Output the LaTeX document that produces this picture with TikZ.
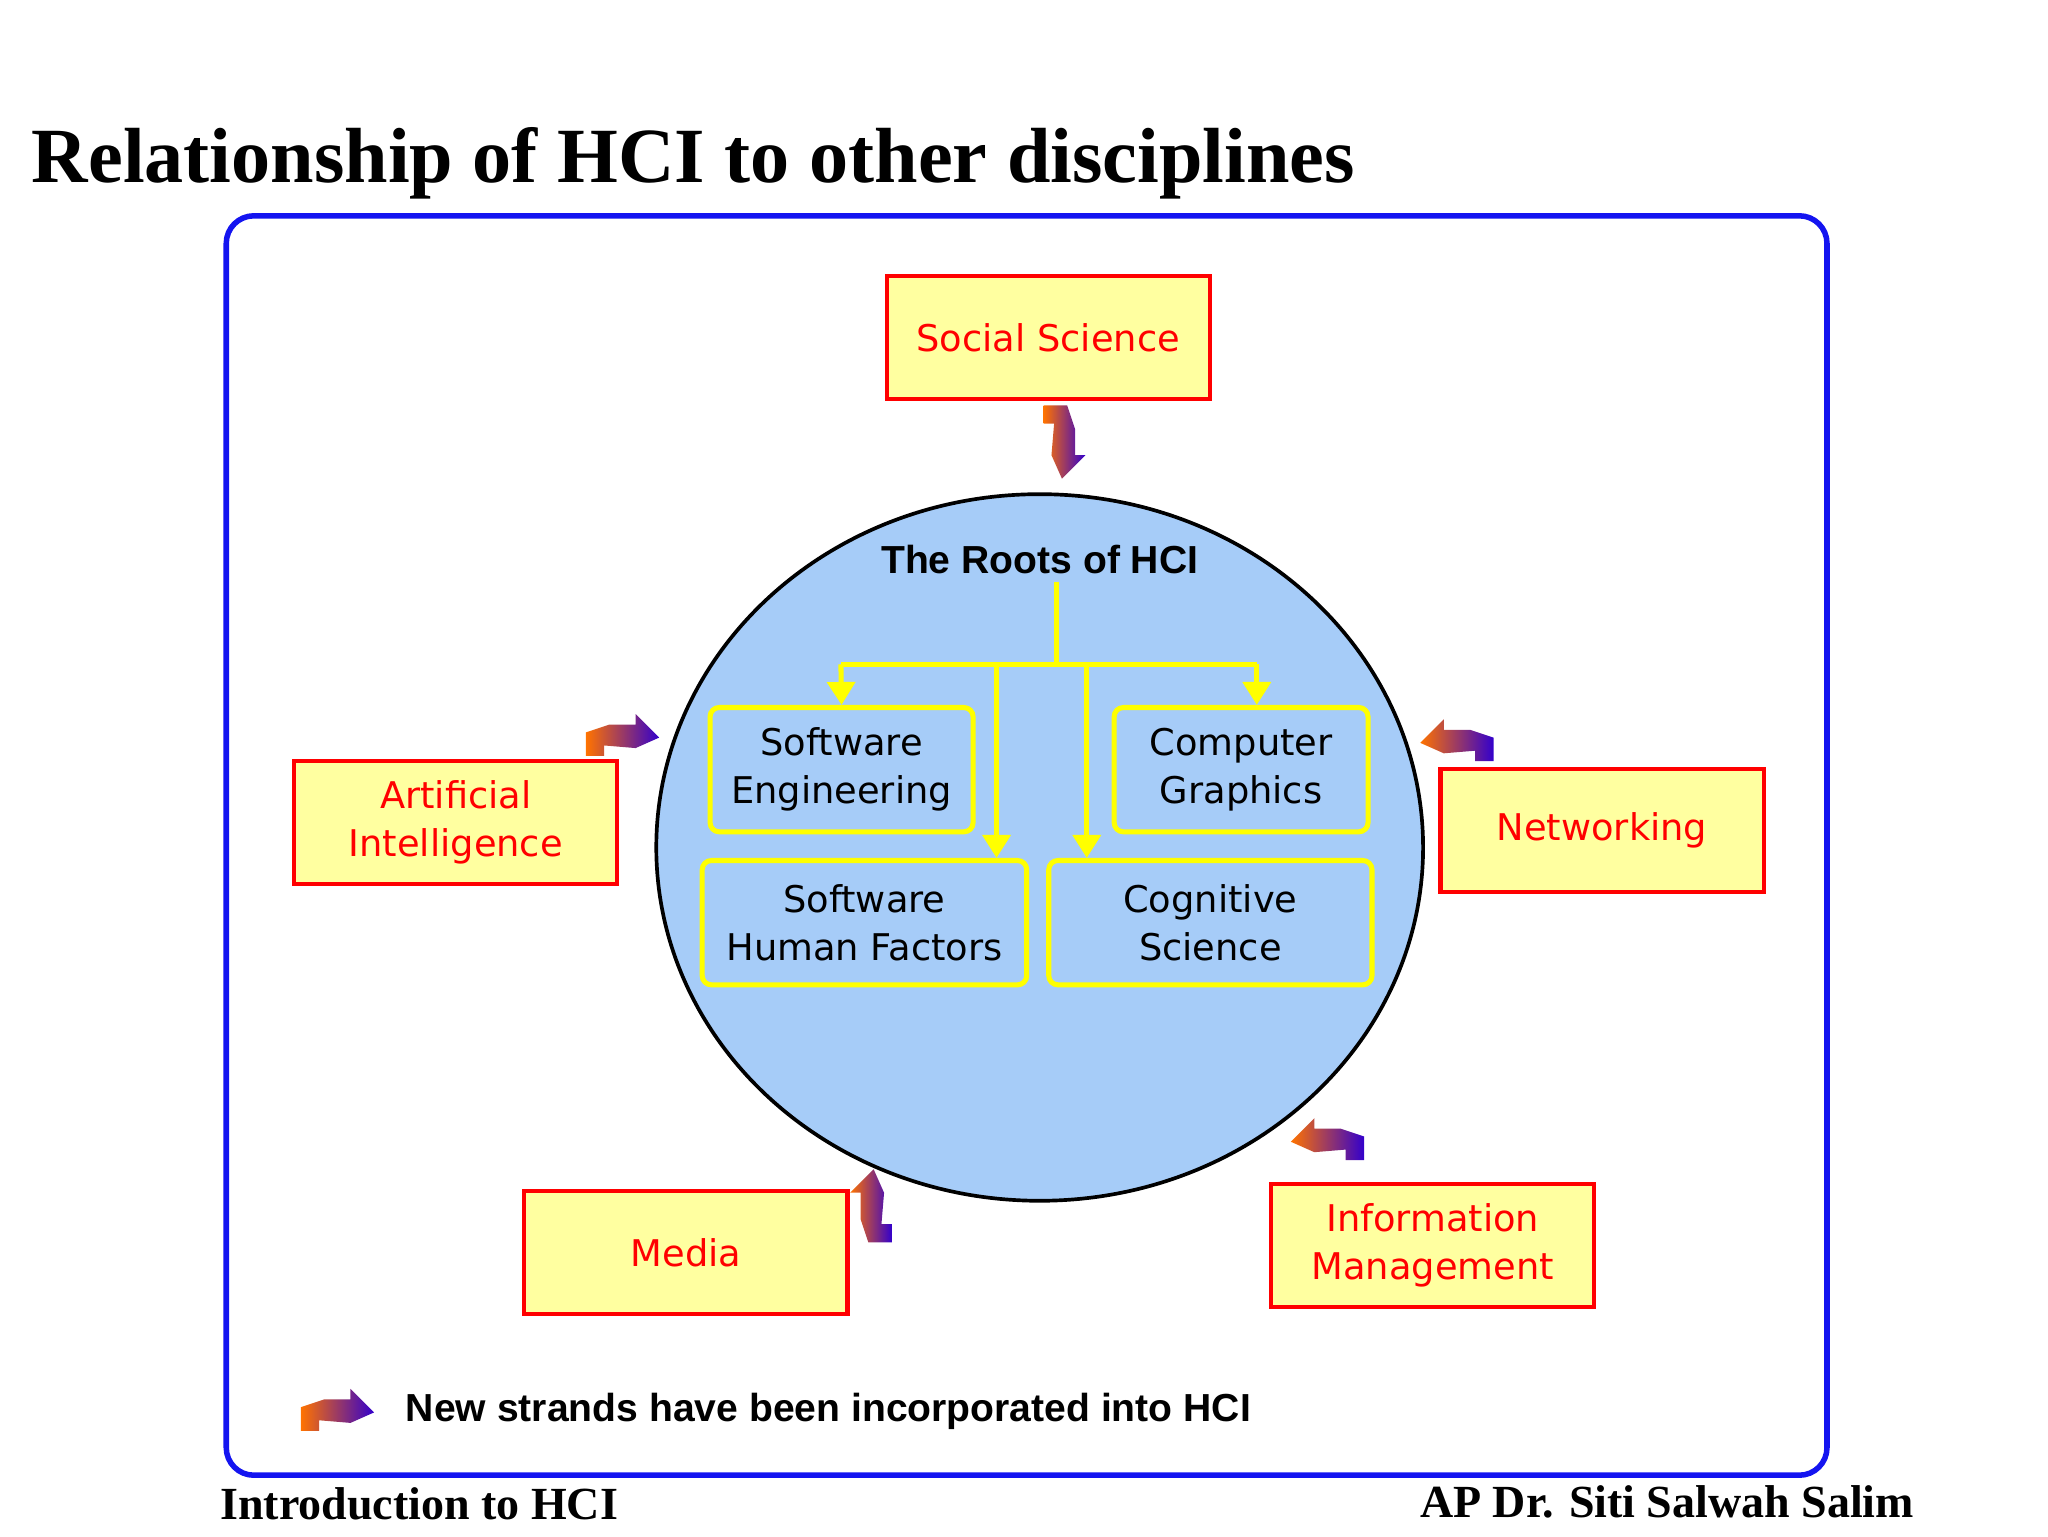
\documentclass[tikz,border=0pt]{standalone}
\usepackage{fontspec}
\setmainfont{Liberation Serif}
\setsansfont{DejaVu Sans}
\newfontfamily\arialf{Liberation Sans}
\usetikzlibrary{shapes.geometric,arrows.meta}
\definecolor{boxfill}{RGB}{255,255,160}
\definecolor{circfill}{RGB}{166,204,248}
\definecolor{frameblue}{RGB}{20,20,240}
\definecolor{yel}{RGB}{255,255,0}
\tikzset{
  x=0.01cm,y=-0.01cm,
  redbox/.style={draw=red,fill=boxfill,line width=0.9pt,minimum width=2.47cm,minimum height=0.94cm,align=center,text=red,font=\sffamily\fontsize{8}{10.5}\selectfont},
  ybox/.style={draw=yel,line width=1.1pt,rounded corners=2pt,align=center,font=\sffamily\fontsize{8}{10.5}\selectfont},
  yline/.style={draw=yel,line width=1.1pt},
  yarr/.style={yline,-{Triangle[length=5pt,width=6pt]}},
  strand/.pic={\shade[left color=orange!90!red,right color=blue!60!violet,draw=none]
    (-28,14)--(-28,-4)--(-10,-10)--(10,-10)--(10,-18)--(28,0)--(10,8)--(-14,6)--(-14,14)--cycle;}
}
\begin{document}
\begin{tikzpicture}
\useasboundingbox (0,0) rectangle (1566,1174.5);
\node[anchor=west,font=\bfseries\fontsize{17}{20}\selectfont] (title) at (12,125) {Relationship of HCI to other disciplines};
\draw[frameblue,line width=1.2pt,rounded corners=6pt] (173,165) rectangle (1397,1128);
\node[ellipse,draw=black,line width=0.8pt,fill=circfill,minimum width=5.86cm,minimum height=5.4cm] (circ) at (795,648) {};
\node[font=\arialf\bfseries\fontsize{8.5}{10}\selectfont] (roots) at (795,428) {The Roots of HCI};
\node[ybox,minimum width=2.01cm,minimum height=0.95cm] (se) at (643.5,588.5) {Software\\Engineering};
\node[ybox,minimum width=1.94cm,minimum height=0.95cm] (cg) at (949,588.5) {Computer\\Graphics};
\node[ybox,minimum width=2.48cm,minimum height=0.95cm] (shf) at (661,705.5) {Software\\Human Factors};
\node[ybox,minimum width=2.47cm,minimum height=0.95cm] (cs) at (925.5,705.5) {Cognitive\\Science};
\coordinate (t0) at (808,445);
\coordinate (t1) at (808,508);
\coordinate (tl) at (643,508);
\coordinate (tr) at (961,508);
\coordinate (ta) at (762,508);
\coordinate (tb) at (831,508);
\draw[yline] (t0)--(t1) (tl)--(tr);
\draw[yarr] (tl)--(se.north);
\draw[yarr] (tr)--(tr|-cg.north);
\draw[yarr] (ta)--(ta|-shf.north);
\draw[yarr] (tb)--(tb|-cs.north);
\node[redbox] (ss) at (801.5,258) {Social Science};
\node[redbox] (ai) at (348.5,629) {Artificial\\Intelligence};
\node[redbox] (net) at (1225,635) {Networking};
\node[redbox] (med) at (524.5,958) {Media};
\node[redbox] (im) at (1095.5,952.5) {Information\\Management};
\pic[rotate=-90] at (812,338) {strand};
\pic at (476,564) {strand};
\pic[xscale=-1] at (1114,568) {strand};
\pic[rotate=90] at (668,922) {strand};
\pic[xscale=-1] at (1015,873) {strand};
\pic at (258,1080) {strand};
\node[anchor=west,font=\arialf\bfseries\fontsize{8.5}{10}\selectfont] (leg) at (298,1079) {New strands have been incorporated into HCI};
\node[anchor=west,font=\bfseries\fontsize{10}{12}\selectfont] (f1) at (156,1150) {Introduction to HCI};
\node[anchor=east,font=\bfseries\fontsize{10}{12}\selectfont] (f2) at (1476,1148) {AP Dr. Siti Salwah Salim};
\end{tikzpicture}
\end{document}
